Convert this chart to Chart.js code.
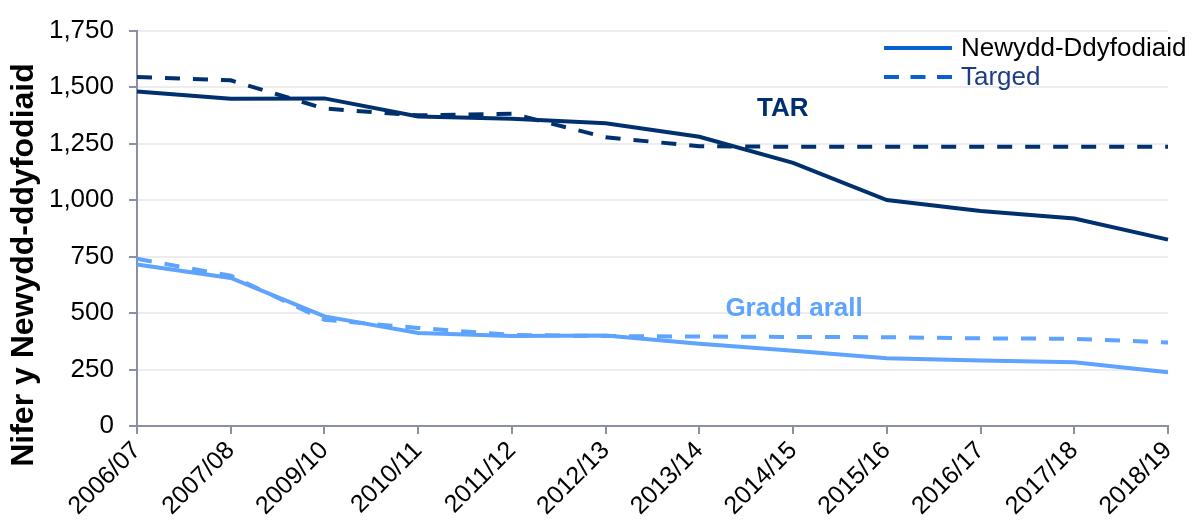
<!DOCTYPE html>
<html>
<head>
<meta charset="utf-8">
<script src="https://cdn.jsdelivr.net/npm/chart.js@4.4.0/dist/chart.umd.min.js"></script>
<style>
    html, body { margin: 0; padding: 0; background: #ffffff; }
    #wrap { width: 1194px; height: 526px; }
</style>
</head>
<body>
<div id="wrap"><canvas id="chart" width="1194" height="526"></canvas></div>
<script>
const labels = ["2006/07", "2007/08", "2009/10", "2010/11", "2011/12", "2012/13",
    "2013/14", "2014/15", "2015/16", "2016/17", "2017/18", "2018/19"];

const tarActual = [1480, 1448, 1450, 1370, 1360, 1340, 1280, 1165, 1000, 952, 918, 825];
const tarTarget = [1545, 1530, 1405, 1375, 1382, 1278, 1238, 1236, 1236, 1236, 1236, 1236];
const otherActual = [715, 655, 485, 412, 398, 400, 364, 333, 300, 290, 282, 238];
const otherTarget = [740, 665, 470, 434, 403, 398, 396, 394, 393, 388, 386, 370];

const yTicks = [0, 250, 500, 750, 1000, 1250, 1500, 1750];
const yTitle = "Nifer y Newydd-ddyfodiaid";

const navy = "#00306e";
const lightBlue = "#5ea3fd";
const legendBlue = "#0a5fd0";
const axisGrey = "#8a8fa3";
const font = "'Liberation Sans', Arial, sans-serif";

// legend, axis title and series labels drawn on top
const overlayPlugin = {
    id: "overlay",
    afterDraw(chart) {
        let ctx = chart.ctx;
        let x = chart.scales.x;
        let y = chart.scales.y;
        ctx.save();
        ctx.lineWidth = 4;
        ctx.strokeStyle = legendBlue;
        ctx.beginPath();
        ctx.moveTo(884, 48);
        ctx.lineTo(952, 48);
        ctx.stroke();
        ctx.setLineDash([15, 11.5]);
        ctx.beginPath();
        ctx.moveTo(884, 77);
        ctx.lineTo(952, 77);
        ctx.stroke();
        ctx.setLineDash([]);

        ctx.font = "26px " + font;
        ctx.textBaseline = "middle";
        ctx.textAlign = "left";
        ctx.fillStyle = "#000000";
        ctx.fillText("Newydd-Ddyfodiaid", 961, 49);
        ctx.fillStyle = "#1c3d86";
        ctx.fillText("Targed", 961, 78);

        ctx.font = "bold 26px " + font;
        ctx.textAlign = "center";
        ctx.fillStyle = navy;
        ctx.fillText("TAR", x.getPixelForValue(6.89), y.getPixelForValue(1405));
        ctx.fillStyle = lightBlue;
        ctx.fillText("Gradd arall", x.getPixelForValue(7.01), y.getPixelForValue(520));

        ctx.translate(24, 265);
        ctx.rotate(-Math.PI / 2);
        ctx.font = "bold 32px " + font;
        ctx.fillStyle = "#000000";
        ctx.fillText(yTitle, 0, 0);
        ctx.restore();
    }
};

function lineSet(data, color, dashed) {
    return {
        data: data,
        borderColor: color,
        backgroundColor: color,
        borderWidth: 4,
        borderDash: dashed ? [15, 13] : [],
        pointRadius: 0,
        tension: 0,
        fill: false
    };
}

new Chart(document.getElementById("chart"), {
    type: "line",
    data: {
        labels: labels,
        datasets: [
            lineSet(tarActual, navy, false),
            lineSet(tarTarget, navy, true),
            lineSet(otherActual, lightBlue, false),
            lineSet(otherTarget, lightBlue, true)
        ]
    },
    options: {
        responsive: false,
        animation: false,
        layout: { padding: { top: 30, right: 26, left: 0, bottom: 0 } },
        plugins: {
            legend: { display: false },
            tooltip: { enabled: false }
        },
        scales: {
            x: {
                offset: false,
                afterFit: axis => { axis.height = 100; },
                grid: { drawOnChartArea: false, color: axisGrey, tickLength: 8, lineWidth: 2 },
                border: { color: axisGrey, width: 2 },
                ticks: {
                    color: "#000000",
                    font: { family: font, size: 25 },
                    maxRotation: 45,
                    minRotation: 45,
                    autoSkip: false,
                    padding: 2
                }
            },
            y: {
                min: 0,
                max: 1750,
                afterFit: axis => { axis.width = 137; },
                afterBuildTicks: axis => { axis.ticks = yTicks.map(v => ({ value: v })); },
                grid: { color: "#ededed", lineWidth: 2, tickColor: axisGrey, tickLength: 8 },
                border: { color: axisGrey, width: 2 },
                ticks: {
                    color: "#000000",
                    font: { family: font, size: 26 },
                    padding: 15
                }
            }
        }
    },
    plugins: [overlayPlugin]
});
</script>
</body>
</html>
